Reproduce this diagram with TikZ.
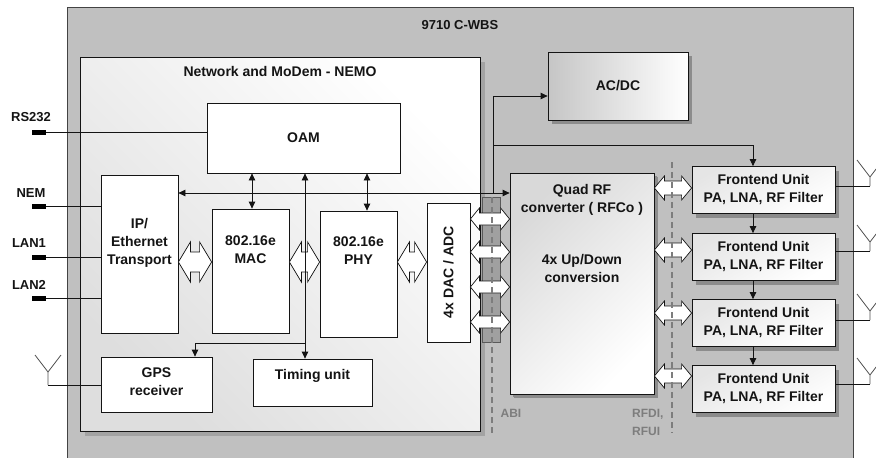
\documentclass[tikz,border=0pt]{standalone}
\usepackage{fontspec}
\setmainfont{Liberation Sans}
\usetikzlibrary{positioning,arrows.meta,shadows,calc}
\definecolor{cBack}{RGB}{192,192,192}
\definecolor{cShadow}{RGB}{140,140,140}
\definecolor{cEdge}{RGB}{20,20,20}
\definecolor{cIface}{RGB}{125,125,125}
\definecolor{cBand}{RGB}{160,160,160}
\definecolor{cAnt}{RGB}{80,80,80}
\tikzset{
  blk/.style={
    rectangle, draw=cEdge, line width=0.8pt, fill=white, inner sep=0pt,
  },
  unit/.style={blk,
    drop shadow={shadow xshift=4pt, shadow yshift=-4pt, fill=cShadow, opacity=1},
  },
  txt/.style={align=center, text=cEdge, font=\bfseries\fontsize{14}{18}\selectfont},
  lab/.style={text=cEdge, font=\bfseries\fontsize{13}{15}\selectfont},
  iflab/.style={align=left, text=cIface, font=\bfseries\fontsize{12}{18}\selectfont},
  arr/.style={-{Triangle[length=7pt,width=6.5pt]}, line width=0.8pt, draw=cEdge},
  darr/.style={{Triangle[length=7pt,width=6.5pt]}-{Triangle[length=7pt,width=6.5pt]},
    line width=0.8pt, draw=cEdge},
  wire/.style={line width=0.8pt, draw=cEdge},
  plug/.style={rectangle, fill=black, minimum width=14pt, minimum height=5pt, inner sep=0pt},
  hollow/.style={draw=cEdge, line width=0.7pt, fill=white},
  iface/.style={draw=cIface, line width=1.3pt, dash pattern=on 6pt off 4pt},
  ant/.style={draw=cAnt, line width=0.8pt},
}
% hollow double arrow between two boxes: from, to, y, head half, shaft half, head length
\newcommand{\hollowarr}[6]{%
  \draw[hollow] let \p1=(#1.east), \p2=(#2.west) in
    (\x1,-#3pt) -- (\x1+#6pt,-#3pt+#4pt) -- (\x1+#6pt,-#3pt+#5pt)
    -- (\x2-#6pt,-#3pt+#5pt) -- (\x2-#6pt,-#3pt+#4pt) -- (\x2,-#3pt)
    -- (\x2-#6pt,-#3pt-#4pt) -- (\x2-#6pt,-#3pt-#5pt)
    -- (\x1+#6pt,-#3pt-#5pt) -- (\x1+#6pt,-#3pt-#4pt) -- cycle;}
% antenna on a base point: base, stem length
\newcommand{\antenna}[2]{%
  \draw[ant] (#1) -- ++(0,-#2) -- ++(-13,-17) ++(13,17) -- ++(13,-17);}

\begin{document}
\begin{tikzpicture}[x=1pt,y=-1pt]
\useasboundingbox (0,0) rectangle (876,458);

% ===== enclosure =====
\node[blk, fill=cBack, draw=cEdge!80, minimum width=786pt, minimum height=470pt]
  (wbs) at (460,242) {};
\node[lab] (wbstitle) at (460,25) {9710 C-WBS};

% ===== NEMO board =====
\node[blk, top color=white, bottom color=gray!26, shading angle=-45,
  drop shadow={shadow xshift=5pt, shadow yshift=-5pt, fill=cShadow!80, opacity=1},
  minimum width=400pt, minimum height=374pt]
  (nemo) at (280,244) {};
\node[txt] (nemotitle) at (280,71) {Network and MoDem - NEMO};

% ABI plug strip
\draw[draw=cEdge!70, fill=cBand, line width=0.6pt] (482,197) rectangle (500,342);

% ===== NEMO blocks =====
\node[blk, minimum width=193pt, minimum height=70pt] (oam) at (303.5,138) {};
\node[txt] (oamtext) at (oam.center) {OAM};

\node[blk, minimum width=77pt, minimum height=158pt] (ip) at (139.5,254) {};
\node[txt] (iptext) at ([yshift=11pt]ip.center) {IP/\\Ethernet\\Transport};

\node[blk, minimum width=77pt, minimum height=124pt] (mac) at (250.5,271) {};
\node[txt] (mactext) at ([yshift=21pt]mac.center) {802.16e\\MAC};

\node[blk, minimum width=77pt, minimum height=126pt] (phy) at (358.5,274) {};
\node[txt] (phytext) at ([yshift=23pt]phy.center) {802.16e\\PHY};

\node[blk, minimum width=43pt, minimum height=139pt] (dac) at (448.5,272.5) {};
\node[txt, rotate=90] (dactext) at (dac.center) {4x DAC / ADC};

\node[blk, minimum width=119pt, minimum height=47pt] (timing) at (312.5,382.5) {};
\node[txt] (timingtext) at ([yshift=7pt]timing.center) {Timing unit};

\node[blk, minimum width=111pt, minimum height=55pt] (gps) at (156.5,384.5) {};
\node[txt] (gpstext) at ([yshift=3pt]gps.center) {GPS\\receiver};

% ===== RF side =====
\node[unit, top color=gray!30, bottom color=white, shading angle=45,
  drop shadow={shadow xshift=3pt, shadow yshift=-3pt, fill=cShadow, opacity=1},
  minimum width=144pt, minimum height=221pt] (rf) at (582,283.5) {};
\node[txt] (rftext) at ([yshift=50pt]rf.center)
  {Quad RF\\converter ( RFCo )\\[34pt]4x Up/Down\\conversion};

\node[unit, left color=gray!45, right color=white,
  minimum width=140pt, minimum height=68pt] (acdc) at (618,86) {};
\node[txt] (acdctext) at (acdc.center) {AC/DC};

\node[unit, top color=gray!20, bottom color=white, shading angle=30,
  minimum width=143pt, minimum height=47pt] (fe1) at (763.5,190) {};
\node[txt] (fe1text) at (fe1.center) {Frontend Unit\\PA, LNA, RF Filter};
\node[unit, top color=gray!20, bottom color=white, shading angle=30,
  minimum width=143pt, minimum height=47pt] (fe2) at (763.5,257) {};
\node[txt] (fe2text) at (fe2.center) {Frontend Unit\\PA, LNA, RF Filter};
\node[unit, top color=gray!20, bottom color=white, shading angle=30,
  minimum width=143pt, minimum height=47pt] (fe3) at (763.5,323) {};
\node[txt] (fe3text) at (fe3.center) {Frontend Unit\\PA, LNA, RF Filter};
\node[unit, top color=gray!20, bottom color=white, shading angle=30,
  minimum width=143pt, minimum height=47pt] (fe4) at (763.5,389) {};
\node[txt] (fe4text) at (fe4.center) {Frontend Unit\\PA, LNA, RF Filter};

% ===== external interfaces =====
\node[plug] (rsplug) at (39,132) {};
\node[lab] (rslab) at (31,117) {RS232};
\node[plug] (nemplug) at (39,206) {};
\node[lab] (nemlab) at (31,193) {NEM};
\node[plug] (lan1plug) at (39,257) {};
\node[lab] (lan1lab) at (29,243) {LAN1};
\node[plug] (lan2plug) at (39,298) {};
\node[lab] (lan2lab) at (29,285) {LAN2};

\draw[wire] (rsplug.east) -- (rsplug.east -| oam.west);
\draw[wire] (nemplug.east) -- (nemplug.east -| ip.west);
\draw[wire] (lan1plug.east) -- (lan1plug.east -| ip.west);
\draw[wire] (lan2plug.east) -- (lan2plug.east -| ip.west);

% ===== data path (hollow arrows) =====
\hollowarr{ip}{mac}{262}{20}{10}{12}
\hollowarr{mac}{phy}{262}{20}{10}{12}
\hollowarr{phy}{dac}{262}{20}{10}{12}
\hollowarr{dac}{rf}{219}{11}{6}{9}
\hollowarr{dac}{rf}{252}{11}{6}{9}
\hollowarr{dac}{rf}{287}{11}{6}{9}
\hollowarr{dac}{rf}{322}{11}{6}{9}
\hollowarr{rf}{fe1}{188}{12}{7}{10}
\hollowarr{rf}{fe2}{250}{12}{7}{10}
\hollowarr{rf}{fe3}{313}{12}{7}{10}
\hollowarr{rf}{fe4}{376}{12}{7}{10}

% ===== control / timing links =====
\coordinate (tap) at (493,193);
\coordinate (acin) at (493,96);
\coordinate (febus) at (753,145);
\coordinate (tjoin) at (305,343);
\coordinate (gpsin) at (195,343);

\draw[darr] (ip.east |- tap) -- (rf.west |- tap);
\draw[wire] (tap) -- (acin);
\draw[arr] (acin) -- (acdc.west |- acin);
\draw[wire] (tap |- febus) -- (febus);
\draw[arr] (febus) -- (febus |- fe1.north);
\draw[arr] (febus |- fe1.south) -- (febus |- fe2.north);
\draw[arr] (febus |- fe2.south) -- (febus |- fe3.north);
\draw[arr] (febus |- fe3.south) -- (febus |- fe4.north);

\draw[darr] ([xshift=1.5pt]mac.north) -- ([xshift=1.5pt]mac.north |- oam.south);
\draw[darr] ([xshift=8.5pt]phy.north) -- ([xshift=8.5pt]phy.north |- oam.south);
\draw[darr] (tjoin |- oam.south) -- (tjoin |- timing.north);
\draw[wire] (tjoin) -- (gpsin);
\draw[arr] (gpsin) -- (gpsin |- gps.north);

% ===== interface lines =====
\draw[iface] (492,197) -- (492,433);
\draw[iface] (672,162) -- (672,433);
\node[iflab] (abilab) at (511,413) {ABI};
\node[iflab, anchor=east] (rfilab) at (667,422) {RFDI,\\RFUI};

% ===== antennas =====
\coordinate (gpsant) at (48,385);
\draw[wire] (gps.west |- gpsant) -- (gpsant);
\antenna{gpsant}{13}
\coordinate (ant1) at (870,186);
\coordinate (ant2) at (870,251);
\coordinate (ant3) at (870,320);
\coordinate (ant4) at (870,384);
\draw[wire] (fe1.east |- ant1) -- (ant1);
\antenna{ant1}{9}
\draw[wire] (fe2.east |- ant2) -- (ant2);
\antenna{ant2}{9}
\draw[wire] (fe3.east |- ant3) -- (ant3);
\antenna{ant3}{9}
\draw[wire] (fe4.east |- ant4) -- (ant4);
\antenna{ant4}{9}

\end{tikzpicture}
\end{document}
